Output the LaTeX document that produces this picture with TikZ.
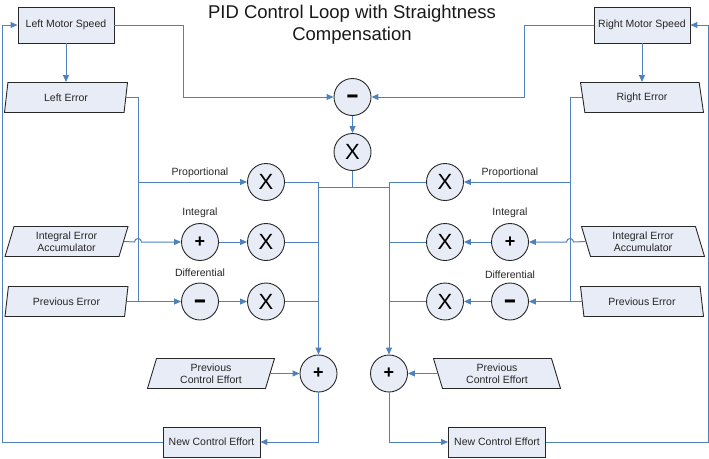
\documentclass[tikz,border=0pt]{standalone}
\usepackage{fontspec}
\setmainfont{Liberation Sans}
\usetikzlibrary{arrows.meta,shapes.geometric,calc}
\definecolor{lnblue}{RGB}{79,129,189}
\definecolor{boxfill}{RGB}{232,236,246}
\definecolor{edge}{RGB}{40,40,40}
\begin{document}
\begin{tikzpicture}[x=1pt,y=-1pt,
  conn/.style={draw=lnblue, line width=1pt},
  arr/.style={conn,-{Triangle[length=7pt,width=6pt]}},
  txt/.style={font=\fontsize{10.5}{12.5}\selectfont, text=black!85},
  rbox/.style={txt, draw=edge, fill=boxfill, line width=0.9pt, minimum width=96pt, minimum height=36pt, inner sep=0pt},
  pg/.style={txt, trapezium, trapezium stretches body, draw=edge, fill=boxfill, line width=0.9pt, minimum width=123pt, minimum height=30pt, inner sep=0pt, align=center},
  pgR/.style={pg, trapezium left angle=66, trapezium right angle=114},
  pgL/.style={pg, trapezium left angle=114, trapezium right angle=66},
  op/.style={circle, draw=edge, fill=boxfill, line width=0.9pt, minimum size=37pt, inner sep=0pt, text=black},
  mul/.style={op, font=\fontsize{22}{22}\selectfont},
  addop/.style={op, font=\bfseries\fontsize{18}{18}\selectfont},
  subop/.style={op, font=\bfseries\fontsize{30}{30}\selectfont, text height=15pt, text depth=0pt},
  lbl/.style={txt, inner sep=0.5pt}
]
\useasboundingbox (0,0) rectangle (709,458);

% title
\node[align=center, font=\fontsize{18.5}{21.5}\selectfont, text=black!90] (title) at (352,24.5) {PID Control Loop with Straightness\\Compensation};

% top boxes
\node[rbox] (lms) at (66,25) {Left Motor Speed};
\node[rbox] (rms) at (642,25) {Right Motor Speed};
\node[pgR] (lerr) at (66,97.5) {Left Error};
\node[pgL] (rerr) at (642,97.5) {Right Error};

% central operators
\node[subop] (msub) at (352.5,97) {\scalebox{0.68}[1]{–}};
\node[mul] (xtop) at (352.5,152) {X};

% left operators
\node[mul] (lpx) at (266,182) {X};
\node[addop] (lpi) at (200,242) {+};
\node[mul] (lix) at (266,242) {X};
\node[subop] (ldm) at (200,301.5) {\scalebox{0.68}[1]{–}};
\node[mul] (ldx) at (266,301.5) {X};
\node[pgR] (lacc) at (66.5,241.5) {Integral Error\\Accumulator};
\node[pgR] (lprev) at (66.5,301.5) {Previous Error};
\node[addop] (lsum) at (318.5,373.5) {+};
\node[pgR, minimum width=127pt] (lpce) at (211,373.5) {Previous\\Control Effort};
\node[rbox, minimum width=97pt, minimum height=30pt] (lnce) at (211.5,442) {New Control Effort};

% right operators
\node[mul] (rpx) at (445,182) {X};
\node[addop] (rpi) at (510,242) {+};
\node[mul] (rix) at (445,242) {X};
\node[subop] (rdm) at (510,301.5) {\scalebox{0.68}[1]{–}};
\node[mul] (rdx) at (445,301.5) {X};
\node[pgL] (racc) at (643,241.5) {Integral Error\\Accumulator};
\node[pgL] (rprev) at (642,301.5) {Previous Error};
\node[addop] (rsum) at (389,373.5) {+};
\node[pgL, minimum width=127pt] (rpce) at (497,373.5) {Previous\\Control Effort};
\node[rbox, minimum width=97pt, minimum height=30pt] (rnce) at (497,442) {New Control Effort};

% labels
\node[lbl] (lprop) at (200,173) {Proportional};
\node[lbl] (lint) at (200,213) {Integral};
\node[lbl] (ldiff) at (200,272.5) {Differential};
\node[lbl] (rprop) at (510,173) {Proportional};
\node[lbl] (rint) at (510,213) {Integral};
\node[lbl] (rdiff) at (510,275) {Differential};

% helper coordinates
\coordinate (lk) at (183,97);
\coordinate (rk) at (524,97);
\coordinate (tj) at (352.5,187);
\coordinate (lv) at (138,182);
\coordinate (rv) at (570,182);
\coordinate (lo) at (2,442);
\coordinate (ro) at (708,442);

% top connections
\draw[arr] (lms.south) -- (lms.south |- lerr.north);
\draw[arr] (rms.south) -- (rms.south |- rerr.north);
\draw[arr] (lms.east) -| (lk) -- (msub.west);
\draw[arr] (rms.west) -| (rk) -- (msub.east);
\draw[arr] (msub.south) -- (xtop.north);
\draw[conn] (xtop.south) -- (tj);
\draw[conn] (lsum.north |- tj) -- (rsum.north |- tj);

% left side
\draw[conn] (lerr.right side) -| (lv |- ldm.west);
\draw[arr] (lv) -- (lpx.west);
\draw[arr] (lacc.right side) -- ($(lv |- lpi.west)+(-3.5,0)$) arc[start angle=180, end angle=360, radius=3.5] -- (lpi.west);
\draw[arr] (lprev.right side) -- (ldm.west);
\draw[arr] (lpi.east) -- (lix.west);
\draw[arr] (ldm.east) -- (ldx.west);
\draw[arr] (lpx.east) -| (lsum.north);
\draw[conn] (lix.east) -- (lix.east -| lsum.north);
\draw[conn] (ldx.east) -- (ldx.east -| lsum.north);
\draw[arr] (lpce.right side) -- (lsum.west);
\draw[arr] (lsum.south) |- (lnce.east);
\draw[arr] (lnce.west) -- (lo) |- (lms.west);

% right side
\draw[conn] (rerr.left side) -| (rv |- rdm.east);
\draw[arr] (rv) -- (rpx.east);
\draw[arr] (racc.left side) -- ($(rv |- rpi.east)+(3.5,0)$) arc[start angle=0, end angle=-180, radius=3.5] -- (rpi.east);
\draw[arr] (rprev.left side) -- (rdm.east);
\draw[arr] (rpi.west) -- (rix.east);
\draw[arr] (rdm.west) -- (rdx.east);
\draw[arr] (rpx.west) -| (rsum.north);
\draw[conn] (rix.west) -- (rix.west -| rsum.north);
\draw[conn] (rdx.west) -- (rdx.west -| rsum.north);
\draw[arr] (rpce.left side) -- (rsum.east);
\draw[arr] (rsum.south) |- (rnce.west);
\draw[arr] (rnce.east) -- (ro) |- (rms.east);
\end{tikzpicture}
\end{document}
